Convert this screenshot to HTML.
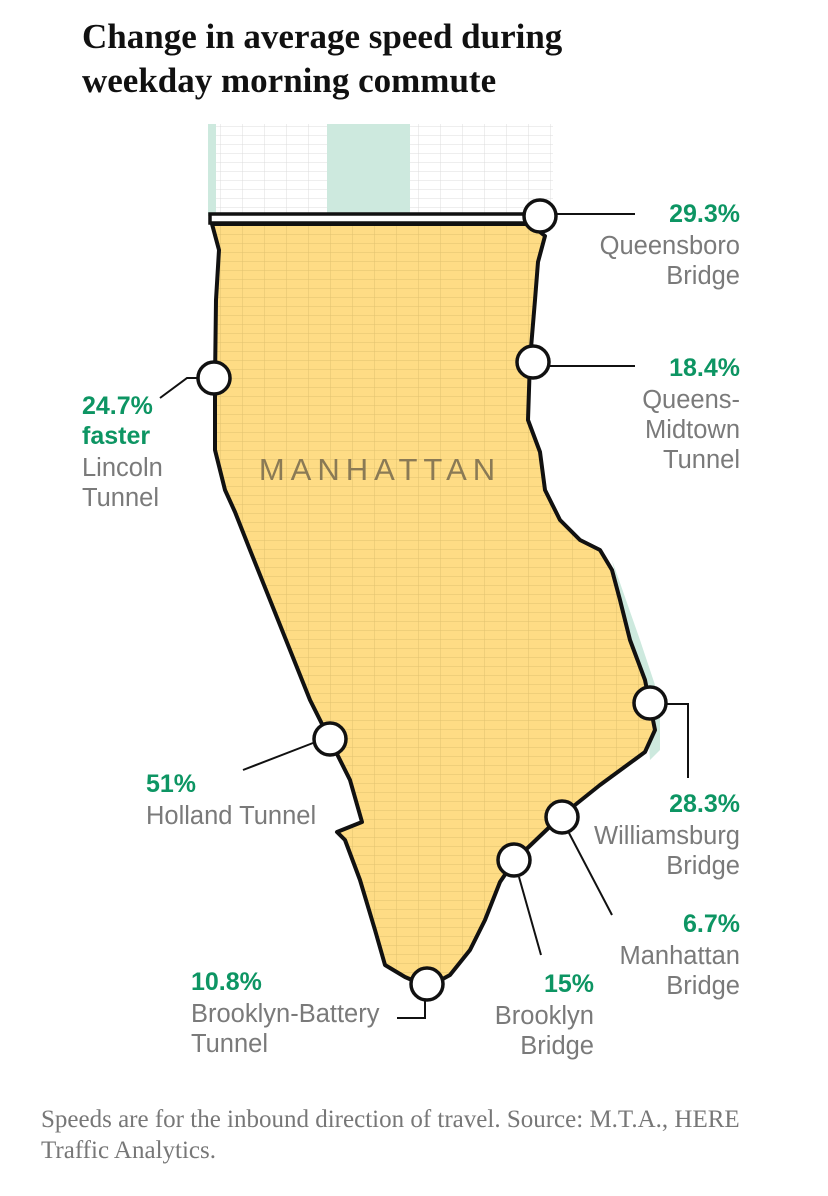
<!DOCTYPE html>
<html><head><meta charset="utf-8">
<style>
body{margin:0;background:#fff;width:828px;height:1196px;overflow:hidden;font-family:"Liberation Sans",sans-serif;}
svg{position:absolute;left:0;top:0}
.t{font-family:"Liberation Serif",serif;font-weight:bold;font-size:35px;fill:#111}
.v{font-weight:bold;font-size:25px;fill:#0d9563}
.n{font-size:25.5px;fill:#7a7a7a}
.f{font-family:"Liberation Serif",serif;font-size:25px;fill:#777}
</style></head><body>
<svg width="828" height="1196" viewBox="0 0 828 1196">
<defs>
<pattern id="grid" width="22" height="9" patternUnits="userSpaceOnUse">
<path d="M0 0H22M0 0V9" stroke="#e0c270" stroke-width="1" fill="none"/>
</pattern>
<pattern id="gridw" width="22" height="9" patternUnits="userSpaceOnUse">
<path d="M0 0H22M0 0V9" stroke="#dcdcdc" stroke-width="1" fill="none"/>
</pattern>
<clipPath id="clip"><path id="islandp" d="M212 224 L530 224 L545 236 L538 262 L535 300 L530 360 L528 420 L540 452 L545 490 L560 520 L580 540 L600 550 L612 570 L620 600 L630 640 L645 680 L650 705 L655 730 L645 752 L600 785 L560 817 L515 860 L500 882 L485 920 L470 950 L450 975 L428 987 L405 977 L385 965 L375 930 L360 880 L345 840 L337 832 L362 822 L350 780 L330 740 L310 700 L290 650 L270 600 L250 550 L235 512 L225 490 L215 450 L215 380 L216 300 L219 250 Z"/></clipPath>
</defs>
<text class="t" x="82" y="48">Change in average speed during</text>
<text class="t" x="82" y="92">weekday morning commute</text>
<g>
<rect x="208" y="124" width="345" height="92" fill="url(#gridw)"/>
<rect x="327" y="124" width="83" height="92" fill="#cde9de"/>
<rect x="208" y="124" width="8" height="92" fill="#cde9de"/>
</g>
<path d="M612 560 L640 640 L660 700 L660 750 L650 760 L645 680 L630 640 Z" fill="#cde9de"/>
<g clip-path="url(#clip)">
<rect x="200" y="200" width="470" height="800" fill="#fedc85"/>
<rect x="200" y="200" width="470" height="800" fill="url(#grid)"/>
</g>
<path d="M212 224 L530 224 L545 236 L538 262 L535 300 L530 360 L528 420 L540 452 L545 490 L560 520 L580 540 L600 550 L612 570 L620 600 L630 640 L645 680 L650 705 L655 730 L645 752 L600 785 L560 817 L515 860 L500 882 L485 920 L470 950 L450 975 L428 987 L405 977 L385 965 L375 930 L360 880 L345 840 L337 832 L362 822 L350 780 L330 740 L310 700 L290 650 L270 600 L250 550 L235 512 L225 490 L215 450 L215 380 L216 300 L219 250 Z" fill="none" stroke="#111" stroke-width="4" stroke-linejoin="round"/>
<rect x="210" y="214" width="330" height="9" fill="#fff" stroke="#111" stroke-width="3.5"/>
<text x="380" y="480" text-anchor="middle" font-size="31" letter-spacing="6" fill="#8a7a55">MANHATTAN</text>
<g id="marks"></g>
<text class="f" x="41" y="1127">Speeds are for the inbound direction of travel. Source: M.T.A., HERE</text>
<text class="f" x="41" y="1158">Traffic Analytics.</text>
</svg>
<script>
const crossings=["Queensboro Bridge","Queens-Midtown Tunnel","Lincoln Tunnel","Holland Tunnel","Williamsburg Bridge","Manhattan Bridge","Brooklyn Bridge","Brooklyn-Battery Tunnel"];
const values=["29.3%","18.4%","24.7%","51%","28.3%","6.7%","15%","10.8%"];
const layout=[
 {c:[540,216],line:"M557 214H635",a:"end",x:740,y:222,lines:["Queensboro","Bridge"],extra:null},
 {c:[533,362],line:"M550 366H635",a:"end",x:740,y:376,lines:["Queens-","Midtown","Tunnel"],extra:null},
 {c:[214,378],line:"M197 378H187L160 398",a:"start",x:82,y:414,lines:["Lincoln","Tunnel"],extra:"faster"},
 {c:[330,739],line:"M313 743L243 770",a:"start",x:146,y:792,lines:["Holland Tunnel"],extra:null},
 {c:[650,703],line:"M667 704H688V778",a:"end",x:740,y:812,lines:["Williamsburg","Bridge"],extra:null},
 {c:[562,817],line:"M569 833L612 915",a:"end",x:740,y:932,lines:["Manhattan","Bridge"],extra:null},
 {c:[514,860],line:"M519 877L541 955",a:"end",x:594,y:992,lines:["Brooklyn","Bridge"],extra:null},
 {c:[427,984],line:"M425 1001V1018H397",a:"start",x:191,y:990,lines:["Brooklyn-Battery","Tunnel"],extra:null}
];
const g=document.getElementById('marks');
const NS="http://www.w3.org/2000/svg";
crossings.forEach((name,i)=>{
 const L=layout[i];
 const p=document.createElementNS(NS,'path');
 p.setAttribute('d',L.line);p.setAttribute('stroke','#111');p.setAttribute('stroke-width','2');p.setAttribute('fill','none');
 
 
 g.appendChild(p);
 const c=document.createElementNS(NS,'circle');
 c.setAttribute('cx',L.c[0]);c.setAttribute('cy',L.c[1]);c.setAttribute('r',16);
 c.setAttribute('fill','#fff');c.setAttribute('stroke','#111');c.setAttribute('stroke-width','3.5');
 
 
 g.appendChild(c);
 let y=L.y;
 const v=document.createElementNS(NS,'text');
 v.setAttribute('class','v');v.setAttribute('x',L.x);v.setAttribute('y',y);v.setAttribute('text-anchor',L.a);
 v.textContent=values[i];
 
 
 g.appendChild(v);
 if(L.extra){y+=30;const e=document.createElementNS(NS,'text');
  e.setAttribute('class','v');e.setAttribute('x',L.x);e.setAttribute('y',y);e.setAttribute('text-anchor',L.a);e.textContent=L.extra;
  
  
  g.appendChild(e);}
 L.lines.forEach((s,k)=>{y+=(k==0?32:30);
  const t=document.createElementNS(NS,'text');
  t.setAttribute('class','n');t.setAttribute('x',L.x);t.setAttribute('y',y);t.setAttribute('text-anchor',L.a);t.textContent=s;
  
  
  g.appendChild(t);});
});
</script>
</body></html>
